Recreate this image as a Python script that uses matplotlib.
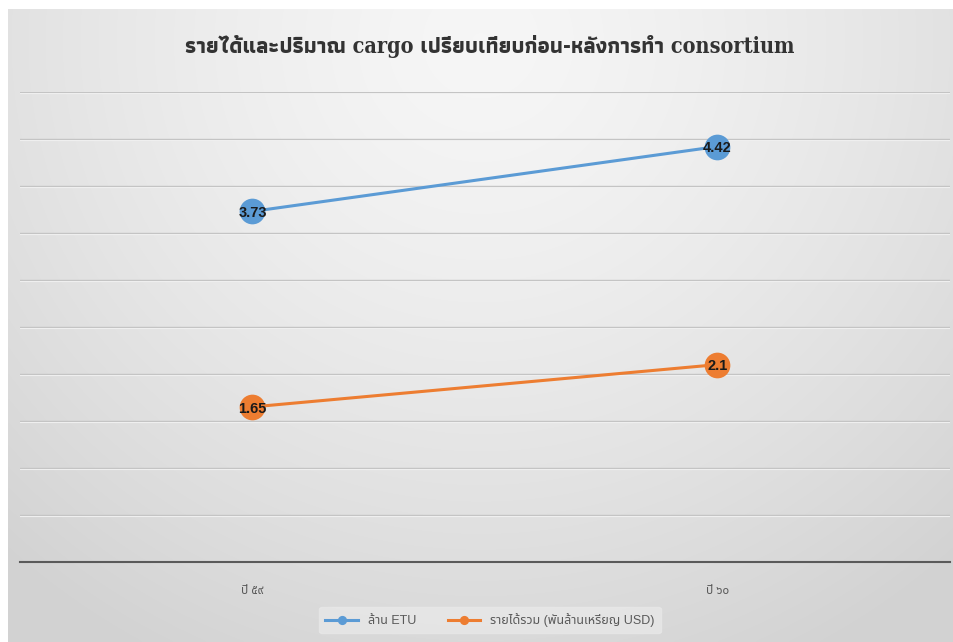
import matplotlib
matplotlib.use("Agg")
import matplotlib.pyplot as plt
import numpy as np

categories = ["ปี ๕๙", "ปี ๖๐"]
etu_values = [3.73, 4.42]
revenue_values = [1.65, 2.1]
series_names = ["ล้าน ETU", "รายได้รวม (พันล้านเหรียญ USD)"]
title = "รายได้และปริมาณ cargo เปรียบเทียบก่อน-หลังการทำ consortium"
y_ticks = [0, 0.5, 1, 1.5, 2, 2.5, 3, 3.5, 4, 4.5, 5]

W, H = 954, 642
fig = plt.figure(figsize=(W / 100, H / 100), dpi=100)
fig.patch.set_facecolor("white")

# background box with radial gradient
bg = fig.add_axes([8 / W, 0, 946 / W, 633 / H])
bg.set_axis_off()
yy, xx = np.mgrid[0:1:300j, 0:1:450j]
d = np.sqrt(((xx - 0.5) / 0.75) ** 2 + ((yy - 0.05) / 1.1) ** 2)
d = np.clip(d, 0, 1)
shade = 0.965 - 0.14 * d ** 1.4
img = np.dstack([shade, shade, shade])
bg.imshow(img, extent=[0, 1, 0, 1], origin="upper", aspect="auto", interpolation="bilinear")
bg.set_xlim(0, 1)
bg.set_ylim(0, 1)

ax = fig.add_axes([20 / W, 1 - 562 / H, 930 / W, (562 - 92) / H])
ax.patch.set_alpha(0)
x = np.arange(len(categories))
ax.set_xlim(-0.5, len(categories) - 0.5)
ax.set_ylim(0, 5)
ax.set_yticks(y_ticks)
ax.yaxis.grid(True, color="#c4c4c4", linewidth=1.0)
ax.set_axisbelow(True)
for yv in y_ticks[1:]:
    ax.axhline(yv - 0.012, color="#fafafa", linewidth=0.8, zorder=0.5)
ax.tick_params(axis="y", length=0, labelleft=False)
ax.tick_params(axis="x", length=0, pad=16, labelsize=8.5, labelcolor="#595959")
ax.set_xticks(x)
ax.set_xticklabels(categories, family=["Noto Sans Thai", "DejaVu Sans"])
for s in ["left", "right", "top"]:
    ax.spines[s].set_visible(False)
ax.spines["bottom"].set_color("#5a5a5a")
ax.spines["bottom"].set_linewidth(1.5)

colors = ["#5B9BD5", "#ED7D31"]
for vals, col, name in zip([etu_values, revenue_values], colors, series_names):
    ax.plot(x, vals, color=col, linewidth=2.2, marker="o", markersize=17,
            markerfacecolor=col, markeredgecolor=col, markeredgewidth=1.5,
            label=name, zorder=3)
    for xi, v in zip(x, vals):
        ax.text(xi, v - 0.02, f"{v:g}", ha="center", va="center", fontsize=10.5,
                fontweight="bold", color="#1a1a1a", zorder=4,
                family=["Liberation Sans", "DejaVu Sans"])

fig.text(490 / W, 1 - 47 / H, title, ha="center", va="center", fontsize=15.5,
         fontweight="bold", fontstretch="condensed", color="#333333",
         family=["DejaVu Serif", "Athiti", "DejaVu Sans"])

leg = fig.legend(loc="center", bbox_to_anchor=(490 / W, 1 - 620 / H), ncol=2,
                 frameon=True, markerscale=0.3,
                 prop={"family": ["Liberation Sans", "Noto Sans Thai", "DejaVu Sans"], "size": 9},
                 handlelength=2.6, columnspacing=2.5, borderpad=0.5)
leg.get_frame().set_facecolor("#e8e8e8")
leg.get_frame().set_edgecolor("#e8e8e8")
for t in leg.get_texts():
    t.set_color("#595959")

fig.savefig("out.png", dpi=100)
